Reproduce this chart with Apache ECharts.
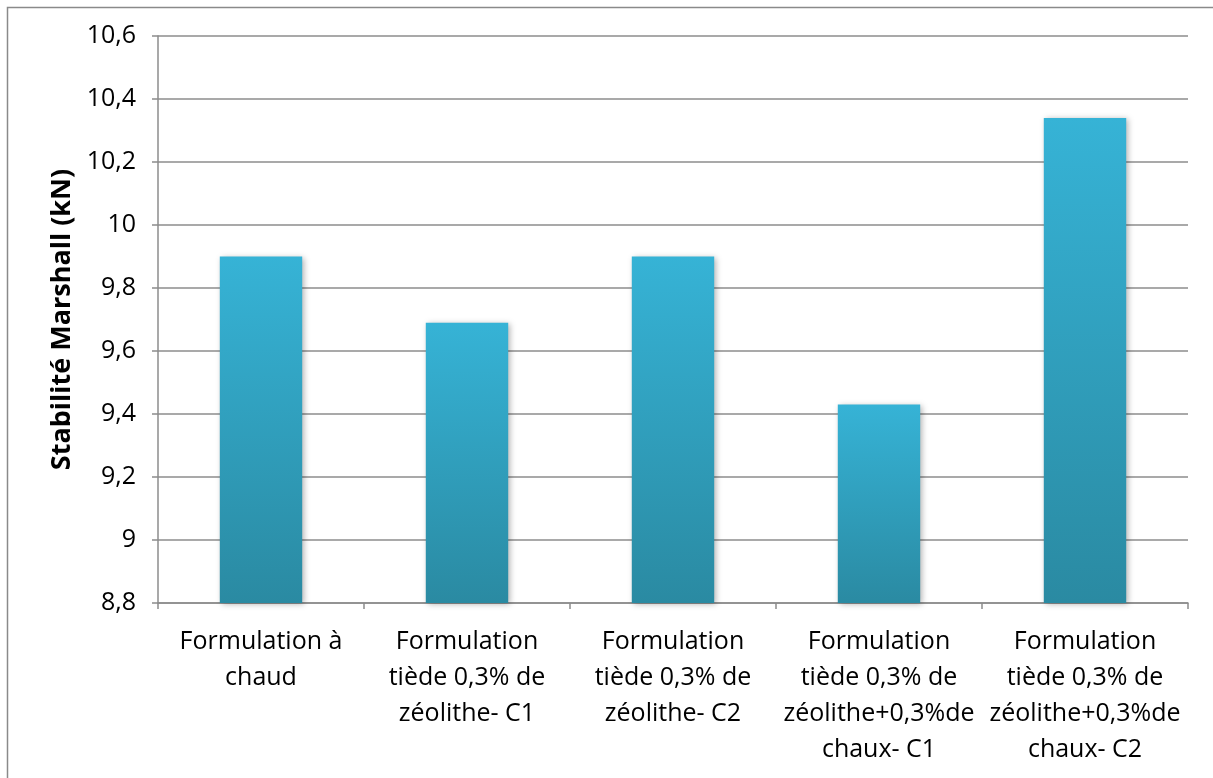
<!DOCTYPE html>
<html>
<head>
<meta charset="utf-8">
<script src="https://cdn.jsdelivr.net/npm/echarts@6/dist/echarts.min.js"></script>
<style>html,body{margin:0;padding:0;background:#fff;}#c{width:1213px;height:778px;}</style>
</head>
<body>
<div id="c"></div>
<script>
const categories = [
  "Formulation à\nchaud",
  "Formulation\ntiède 0,3% de\nzéolithe- C1",
  "Formulation\ntiède 0,3% de\nzéolithe- C2",
  "Formulation\ntiède 0,3% de\nzéolithe+0,3%de\nchaux- C1",
  "Formulation\ntiède 0,3% de\nzéolithe+0,3%de\nchaux- C2"
];
const values = [9.90, 9.69, 9.90, 9.43, 10.34];
const yTitle = "Stabilité Marshall (kN)";

const FONT = "'Open Sans', sans-serif";
const chart = echarts.init(document.getElementById('c'), null, {renderer: 'canvas'});
chart.setOption({
  animation: false,
  backgroundColor: '#fff',
  graphic: [{
    type: 'rect', shape: {x: 7.5, y: 7.5, width: 1300, height: 900},
    style: {fill: 'none', stroke: '#8a8a8a', lineWidth: 1.5}, silent: true
  }],
  grid: {left: 158, right: 25, top: 36, bottom: 175, containLabel: false},
  xAxis: {
    type: 'category',
    data: categories,
    axisLine: {lineStyle: {color: '#8c8c8c', width: 1.5}},
    axisTick: {show: true, alignWithLabel: false, length: 6, lineStyle: {color: '#8c8c8c', width: 1.5}},
    axisLabel: {interval: 0, color: '#000', fontFamily: FONT, fontSize: 25, lineHeight: 36, margin: 21}
  },
  yAxis: {
    type: 'value',
    min: 8.8, max: 10.6, interval: 0.2,
    name: yTitle,
    nameLocation: 'middle',
    nameGap: 82,
    nameTextStyle: {color: '#000', fontFamily: FONT, fontSize: 27, fontWeight: 'bold'},
    axisLine: {show: true, lineStyle: {color: '#8c8c8c', width: 1.5}},
    axisTick: {show: true, length: 6, lineStyle: {color: '#8c8c8c', width: 1.5}},
    splitLine: {lineStyle: {color: '#8c8c8c', width: 1.5}},
    axisLabel: {
      color: '#000', fontFamily: FONT, fontSize: 25, margin: 22,
      formatter: v => (Math.round(v * 10) / 10).toString().replace('.', ',')
    }
  },
  series: [{
    type: 'bar',
    data: values,
    barWidth: '40%',
    itemStyle: {
      color: new echarts.graphic.LinearGradient(0, 0, 0, 1, [
        {offset: 0, color: '#36b3d6'},
        {offset: 1, color: '#2a8aa2'}
      ]),
      shadowColor: 'rgba(0,0,0,0.3)', shadowBlur: 6, shadowOffsetX: 2, shadowOffsetY: 1
    }
  }]
});
</script>
</body>
</html>
